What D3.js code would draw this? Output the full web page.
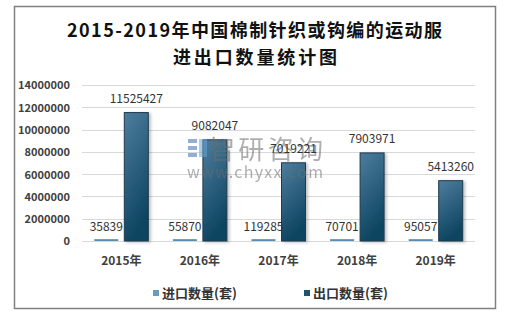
<!DOCTYPE html>
<html>
<head>
<meta charset="utf-8">
<script src="https://cdn.jsdelivr.net/npm/d3@7"></script>
<style>
  body { margin: 0; background: #fff; }
  svg text { font-family: "Noto Sans CJK SC", "Noto Sans", sans-serif; }
</style>
</head>
<body>
<div id="chart"></div>
<script>
// donnees
var years = ["2015年", "2016年", "2017年", "2018年", "2019年"];
var importQty = [35839, 55870, 119285, 70701, 95057];
var exportQty = [11525427, 9082047, 7019221, 7903971, 5413260];
var yTicks = [0, 2000000, 4000000, 6000000, 8000000, 10000000, 12000000, 14000000];
var seriesNames = ["进口数量(套)", "出口数量(套)"];

var width = 509, height = 317;
var svg = d3.select("#chart").append("svg")
  .attr("width", width).attr("height", height);

// cadre gris
svg.append("rect").attr("x", 14.5).attr("y", 6.5).attr("width", 481).attr("height", 302)
  .attr("fill", "none").attr("stroke", "#808080").attr("stroke-width", 1.5);

// titre
svg.append("text").attr("x", 67).attr("y", 37)
  .attr("textLength", 375).attr("lengthAdjust", "spacing")
  .style("font-size", "18px").style("font-weight", "bold").attr("fill", "#111")
  .text("2015-2019年中国棉制针织或钩编的运动服");
svg.append("text").attr("x", 173).attr("y", 64)
  .attr("textLength", 164).attr("lengthAdjust", "spacing")
  .style("font-size", "18px").style("font-weight", "bold").attr("fill", "#111")
  .text("进出口数量统计图");

var x = d3.scaleBand().domain(years).range([82, 475]);
var y = d3.scaleLinear().domain([0, 14000000]).range([241, 85]);

// grille
svg.append("g").selectAll("line").data(yTicks).enter().append("line")
  .attr("x1", 82).attr("x2", 475)
  .attr("y1", function(d){ return Math.round(y(d)) + 0.5; })
  .attr("y2", function(d){ return Math.round(y(d)) + 0.5; })
  .attr("stroke", "#d9d9d9").attr("stroke-width", 1);

// axe y
var yAxis = svg.append("g").attr("transform", "translate(70,0)")
  .call(d3.axisLeft(y).tickValues(yTicks).tickSize(0).tickPadding(0).tickFormat(d3.format("d")));
yAxis.select(".domain").remove();
yAxis.selectAll("text").style("font-size", "11px").style("font-weight", "bold")
  .attr("fill", "#404040").attr("dy", "0.35em");

// axe x
var xAxis = svg.append("g").attr("transform", "translate(0,241)")
  .call(d3.axisBottom(x).tickSize(0).tickPadding(15));
xAxis.select(".domain").remove();
xAxis.selectAll("text").style("font-size", "12px").style("font-weight", "bold").attr("fill", "#404040");

// degrades
var defs = svg.append("defs");
var gExp = defs.append("linearGradient").attr("id", "gExp")
  .attr("x1", "0").attr("y1", "0").attr("x2", "0.3").attr("y2", "1");
gExp.append("stop").attr("offset", "0%").attr("stop-color", "#4e7d9d");
gExp.append("stop").attr("offset", "100%").attr("stop-color", "#0d4561");
var gImp = defs.append("linearGradient").attr("id", "gImp")
  .attr("x1", "0").attr("y1", "0").attr("x2", "0").attr("y2", "1");
gImp.append("stop").attr("offset", "0%").attr("stop-color", "#7eaac6");
gImp.append("stop").attr("offset", "100%").attr("stop-color", "#4f83a6");
var shadow = defs.append("filter").attr("id", "shadow")
  .attr("x", "-20%").attr("y", "-10%").attr("width", "150%").attr("height", "130%");
shadow.append("feDropShadow").attr("dx", 2).attr("dy", 1).attr("stdDeviation", 1.5)
  .attr("flood-color", "#000").attr("flood-opacity", 0.25);

var barW = 24;
function impX(d){ return x(d) + x.bandwidth() / 2 - 3 - barW; }
function expX(d){ return x(d) + x.bandwidth() / 2 + 3; }

// barres import (hauteur minimale visible)
svg.append("g").selectAll("rect").data(years).enter().append("rect")
  .attr("x", function(d){ return impX(d); })
  .attr("width", barW)
  .attr("y", function(d, i){ return Math.min(y(importQty[i]), 239); })
  .attr("height", function(d, i){ return Math.max(241 - y(importQty[i]), 2); })
  .attr("fill", "url(#gImp)");

// barres export
svg.append("g").selectAll("rect").data(years).enter().append("rect")
  .attr("x", function(d){ return expX(d); })
  .attr("width", barW)
  .attr("y", function(d, i){ return y(exportQty[i]); })
  .attr("height", function(d, i){ return 241 - y(exportQty[i]); })
  .attr("fill", "url(#gExp)").attr("stroke", "#1d3a4e").attr("stroke-width", 1)
  .attr("filter", "url(#shadow)");

// filigrane
var wm = svg.append("g").attr("opacity", 0.55);
wm.append("rect").attr("x", 188).attr("y", 139).attr("width", 9).attr("height", 4).attr("fill", "#3d6fb5");
wm.append("rect").attr("x", 188).attr("y", 146).attr("width", 9).attr("height", 4).attr("fill", "#3d6fb5");
wm.append("rect").attr("x", 188).attr("y", 153).attr("width", 9).attr("height", 4).attr("fill", "#3d6fb5");
wm.append("rect").attr("x", 199).attr("y", 139).attr("width", 8).attr("height", 18).attr("fill", "#6aa3d8");
wm.append("text").attr("x", 209).attr("y", 159).attr("textLength", 114).attr("lengthAdjust", "spacing")
  .style("font-size", "26px").attr("fill", "#6d6d6d").text("智研咨询");
wm.append("text").attr("x", 187).attr("y", 178).attr("textLength", 136).attr("lengthAdjust", "spacing")
  .style("font-size", "16px").attr("fill", "#6d6d6d").text("www.chyxx.com");

// etiquettes de valeurs
svg.append("g").selectAll("text").data(years).enter().append("text")
  .attr("x", function(d){ return impX(d) + barW / 2; })
  .attr("y", function(d, i){ return Math.min(y(importQty[i]), 239) - 8; })
  .attr("text-anchor", "middle").style("font-size", "12px").attr("fill", "#333")
  .text(function(d, i){ return importQty[i]; });
svg.append("g").selectAll("text").data(years).enter().append("text")
  .attr("x", function(d){ return expX(d) + barW / 2; })
  .attr("y", function(d, i){ return y(exportQty[i]) - 10; })
  .attr("text-anchor", "middle").style("font-size", "12px").attr("fill", "#333")
  .text(function(d, i){ return exportQty[i]; });

// legende
var legX = [153, 304];
var legFill = ["#6a9cbd", "#1e5373"];
var leg = svg.append("g").selectAll("g").data(seriesNames).enter().append("g")
  .attr("transform", function(d, i){ return "translate(" + legX[i] + ",290)"; });
leg.append("rect").attr("width", 6).attr("height", 6)
  .attr("fill", function(d, i){ return legFill[i]; });
leg.append("text").attr("x", 9).attr("y", 7.5)
  .style("font-size", "13px").style("font-weight", "bold").attr("fill", "#333")
  .text(function(d){ return d; });
</script>
</body>
</html>
